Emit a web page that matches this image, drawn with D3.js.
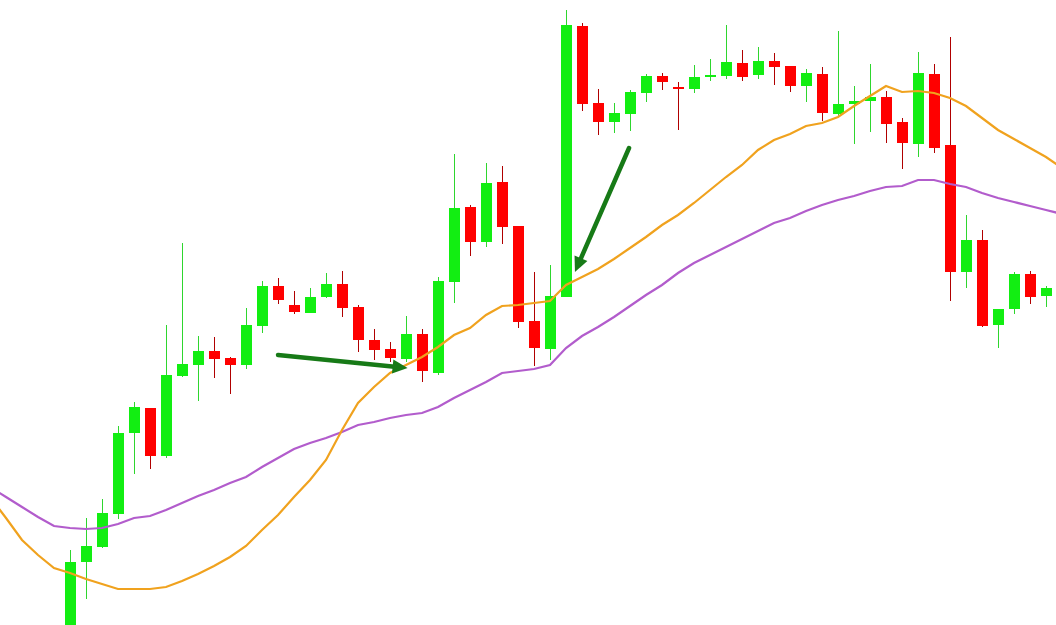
<!DOCTYPE html>
<html>
<head>
<meta charset="utf-8">
<script src="https://cdn.jsdelivr.net/npm/d3@7"></script>
<style>
html,body{margin:0;padding:0;background:#fff;}
svg{display:block;}
</style>
</head>
<body>
<svg id="chart" width="1056" height="625"></svg>
<script>
// Candle data (price in points), index = bar number
const opens  = [70,138,153,186,267,292,244,324,335,349,342,335,374,414,395,387,403,416,393,360,351,341,366,327,418,493,458,518,474,379,351,403,674,597,578,586,607,624,613,611,623,624,637,625,639,634,614,626,586,596,599,603,578,556,626,555,428,460,375,391,426,404];
const highs  = [150,182,201,274,298,292,375,457,364,363,343,392,419,422,409,412,427,429,395,371,358,384,371,423,546,495,537,534,474,428,435,690,677,611,597,610,626,627,618,635,641,675,650,653,647,634,631,633,669,614,636,609,582,648,636,663,485,470,391,428,429,414];
const lows   = [66,101,152,181,226,231,242,323,299,322,306,331,367,396,386,387,402,383,348,340,338,338,318,325,397,444,453,456,372,334,340,403,589,565,567,569,598,610,570,607,619,621,619,621,615,608,598,579,583,556,568,557,531,543,547,399,412,373,352,386,396,393];
const closes = [138,154,187,267,293,244,325,336,349,341,335,375,414,400,388,403,416,392,360,350,342,366,329,419,492,458,517,473,378,352,404,675,596,578,587,608,624,618,611,623,625,638,623,639,633,614,627,587,596,599,603,576,557,627,552,428,460,374,391,426,403,412];

// Moving averages, indices -5 .. 62
const maIndex  = d3.range(-5, 63);
const maFast = [203,182,160,145,132,127,121,116,111,111,111,113,119,126,134,143,154,170,185,203,220,240,270,297,313,327,335,343,353,365,372,385,394,395,397,399,415,423,431,441,452,463,475,485,497,510,523,535,550,560,566,574,577,583,594,604,614,608,609,607,602,594,582,570,561,552,543,532];
const maSlow = [213,203,193,183,174,172,171,172,176,182,184,190,197,204,210,217,223,233,242,251,257,262,268,275,278,282,285,287,293,302,310,318,327,329,331,335,352,364,373,383,394,405,415,427,437,445,453,461,469,477,482,489,495,500,504,509,513,514,520,520,516,513,507,502,498,494,490,486];

// Annotation arrows: [fromIndex, fromPrice, toIndex, toPrice]
const arrows = [
  [13.0, 345, 21.1, 332],
  [34.94, 552, 31.56, 428]
];

const W = 1056, H = 625;
const svg = d3.select('#chart');
const x = d3.scaleLinear().domain([-4.375, 61.625]).range([0, W]);
const y = d3.scaleLinear().domain([75, 700]).range([H, 0]);

const defs = svg.append('defs');
defs.append('clipPath').attr('id','clip').append('rect').attr('x',0).attr('y',0).attr('width',W).attr('height',H);
const g = svg.append('g').attr('clip-path','url(#clip)');

const bars = opens.map((o,i)=>({i, o, h:highs[i], l:lows[i], c:closes[i]}));
const bodyW = 11;
const GREEN = '#12ee12', RED = '#ff0000';

// wicks
g.selectAll('line.wick').data(bars).join('line')
  .attr('class','wick')
  .attr('x1', d=>Math.round(x(d.i))+0.5).attr('x2', d=>Math.round(x(d.i))+0.5)
  .attr('y1', d=>y(d.h)).attr('y2', d=>y(d.l))
  .attr('stroke', d=> d.c>=d.o ? '#2ed62e' : '#b00000')
  .attr('stroke-width', 1);

// bodies
g.selectAll('rect.body').data(bars).join('rect')
  .attr('class','body')
  .attr('x', d=>Math.round(x(d.i)) - 5)
  .attr('width', bodyW)
  .attr('y', d=>y(Math.max(d.o,d.c)))
  .attr('height', d=>Math.max(2, Math.abs(y(d.o)-y(d.c))))
  .attr('fill', d=> d.c>=d.o ? GREEN : RED);

// moving averages
const lineGen = d3.line().x(d=>x(d[0])).y(d=>y(d[1]));
g.append('path').datum(maIndex.map((k,j)=>[k, maSlow[j]]))
  .attr('d', lineGen).attr('fill','none').attr('stroke','#b25ccc').attr('stroke-width',2.2);
g.append('path').datum(maIndex.map((k,j)=>[k, maFast[j]]))
  .attr('d', lineGen).attr('fill','none').attr('stroke','#f0a21e').attr('stroke-width',2.2);

// arrows
const AC = '#177a17';
arrows.forEach(a=>{
  const x1=x(a[0]), y1=y(a[1]), x2=x(a[2]), y2=y(a[3]);
  const dx=x2-x1, dy=y2-y1, len=Math.hypot(dx,dy), ux=dx/len, uy=dy/len;
  const headL=15, headW=7;
  const bx=x2-ux*headL, by=y2-uy*headL;
  g.append('line').attr('x1',x1).attr('y1',y1).attr('x2',bx+ux*2).attr('y2',by+uy*2)
    .attr('stroke',AC).attr('stroke-width',4.5).attr('stroke-linecap','round');
  g.append('path').attr('d', d3.line()([[x2,y2],[bx-uy*headW,by+ux*headW],[bx+uy*headW,by-ux*headW]])+'Z')
    .attr('fill',AC);
});
</script>
</body>
</html>
